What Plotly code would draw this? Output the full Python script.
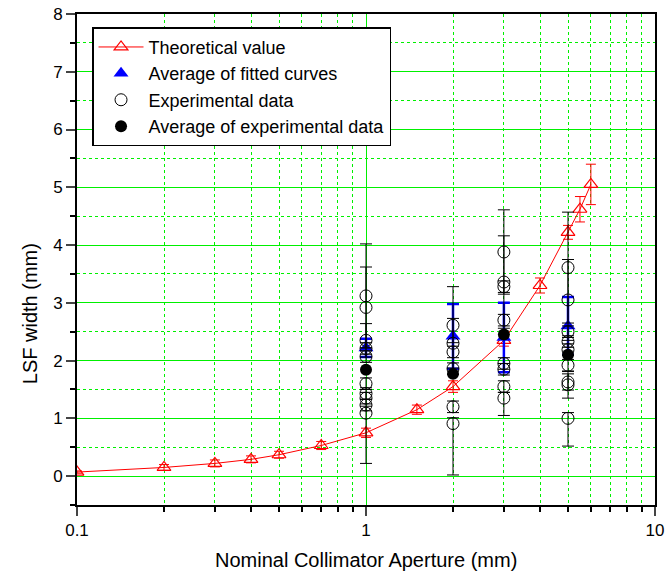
import plotly.graph_objects as go

# Theoretical value
theo_x = [0.1, 0.2, 0.3, 0.4, 0.5, 0.7, 1, 1.5, 2, 3, 4, 5, 5.5, 6]
theo_y = [0.07, 0.15, 0.22, 0.29, 0.37, 0.53, 0.75, 1.15, 1.55, 2.35, 3.3, 4.22, 4.62, 5.05]
theo_err = [0.02, 0.05, 0.06, 0.06, 0.06, 0.07, 0.08, 0.08, 0.1, 0.1, 0.13, 0.12, 0.22, 0.35]

# Experimental data
exp_x = [1] * 10 + [2] * 6 + [3] * 8 + [5] * 9
exp_y = [3.12, 2.92, 2.35, 2.21, 2.07, 1.60, 1.43, 1.35, 1.23, 1.09,
         2.61, 2.30, 2.15, 1.86, 1.20, 0.91,
         3.88, 3.36, 3.28, 2.70, 1.95, 1.85, 1.55, 1.35,
         3.61, 3.05, 2.50, 2.33, 2.19, 1.92, 1.63, 1.58, 1.00]
exp_err_plus = [0.90, 0.70, 0.29, 0.10, 0.10, 0.10, 0.10, 0.10, 0.10, 0.12,
                0.67, 0.43, 0.10, 0.10, 0.10, 0.10,
                0.73, 0.80, 0.10, 0.10, 0.10, 0.10, 0.10, 0.10,
                0.96, 0.70, 0.10, 0.10, 0.10, 0.10, 0.14, 0.23, 0.10]
exp_err_minus = [0.90, 0.70, 0.29, 0.10, 0.10, 0.10, 0.10, 0.10, 0.10, 0.87,
                 0.30, 0.43, 0.10, 0.10, 0.10, 0.89,
                 0.73, 0.80, 0.10, 0.10, 0.10, 0.10, 0.10, 0.30,
                 0.96, 0.70, 0.10, 0.10, 0.10, 0.10, 0.14, 0.23, 0.48]

# Average of fitted curves
fit_x = [1, 2, 3, 5]
fit_y = [2.22, 2.42, 2.40, 2.60]
fit_err = [0.16, 0.56, 0.60, 0.50]

# Average of experimental data
avg_x = [1, 2, 3, 5]
avg_y = [1.84, 1.77, 2.45, 2.10]

x_ticks = [0.1, 1, 10]
x_tick_text = ["0.1", "1", "10"]
x_minor = [0.2, 0.3, 0.4, 0.5, 0.6, 0.7, 0.8, 0.9, 2, 3, 4, 5, 6, 7, 8, 9]
y_ticks = [0, 1, 2, 3, 4, 5, 6, 7, 8]

GREEN = "rgb(0,240,0)"
FONT = "Liberation Sans, Arial, sans-serif"

fig = go.Figure()
fig.add_trace(go.Scatter(
    x=theo_x, y=theo_y, mode="lines+markers", name="Theoretical value",
    line=dict(color="red", width=1),
    marker=dict(symbol="triangle-up-open", size=12, color="red", line=dict(width=1.2)),
    error_y=dict(type="data", array=theo_err, color="red", thickness=1, width=5),
))
fig.add_trace(go.Scatter(
    x=fit_x, y=fit_y, mode="markers", name="Average of fitted curves",
    marker=dict(symbol="triangle-up", size=13, color="blue"),
    error_y=dict(type="data", array=fit_err, color="blue", thickness=2.5, width=6),
))
fig.add_trace(go.Scatter(
    x=exp_x, y=exp_y, mode="markers", name="Experimental data",
    marker=dict(symbol="circle-open", size=12, color="black", line=dict(width=1)),
    error_y=dict(type="data", array=exp_err_plus, arrayminus=exp_err_minus,
                 color="black", thickness=1, width=6),
))
fig.add_trace(go.Scatter(
    x=avg_x, y=avg_y, mode="markers", name="Average of experimental data",
    marker=dict(symbol="circle", size=12, color="black"),
))

fig.update_layout(
    width=667, height=575,
    margin=dict(l=77, r=12, t=14, b=70, autoexpand=False),
    paper_bgcolor="white", plot_bgcolor="white",
    font=dict(family=FONT, size=17, color="black"),
    showlegend=True,
    legend=dict(x=0.026, y=0.973, xanchor="left", yanchor="top",
                bgcolor="white", bordercolor="black", borderwidth=1.5,
                font=dict(size=18), tracegroupgap=0, itemwidth=45),
    xaxis=dict(type="log", range=[-1, 1], tickmode="array", tickvals=x_ticks,
               ticktext=x_tick_text, ticks="outside", ticklen=9, tickwidth=2,
               showline=True, linecolor="black", linewidth=2, mirror=True,
               automargin=False, ticklabeloverflow="allow",
               showgrid=True, gridcolor=GREEN, gridwidth=1, zeroline=False,
               minor=dict(tickmode="array", tickvals=x_minor, ticks="outside",
                          ticklen=5, tickwidth=1.5, tickcolor="black",
                          showgrid=True, gridcolor=GREEN, griddash="dot", gridwidth=1)),
    yaxis=dict(range=[-0.5, 8], tickmode="array", tickvals=y_ticks,
               ticks="outside", ticklen=9, tickwidth=2,
               showline=True, linecolor="black", linewidth=2, mirror=True,
               automargin=False, ticklabeloverflow="allow",
               showgrid=True, gridcolor=GREEN, gridwidth=1, zeroline=False,
               minor=dict(dtick=0.5, ticks="outside", ticklen=5, tickwidth=1.5,
                          tickcolor="black", showgrid=True, gridcolor=GREEN,
                          griddash="dot", gridwidth=1)),
    annotations=[
        dict(text="Nominal Collimator Aperture (mm)", xref="paper", yref="paper",
             x=0.5, y=-0.112, xanchor="center", yanchor="middle", showarrow=False,
             font=dict(size=20)),
        dict(text="LSF width (mm)", xref="paper", yref="paper", textangle=-90,
             x=-0.081, y=0.389, xanchor="center", yanchor="middle", showarrow=False,
             font=dict(size=20)),
    ],
)

fig.write_html("out.html", config={"displayModeBar": False},
               post_script="document.body.style.margin='0';document.body.style.overflow='hidden';")
